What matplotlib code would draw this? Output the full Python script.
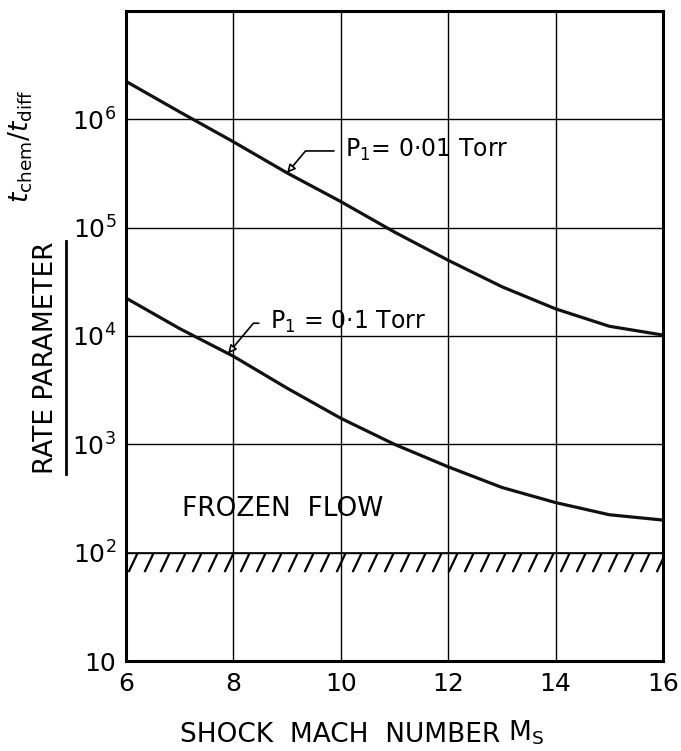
import numpy as np
import matplotlib.pyplot as plt
from matplotlib.ticker import NullLocator
from matplotlib.lines import Line2D

# data
mach = [6, 7, 8, 9, 10, 11, 12, 13, 14, 15, 16]
rate_p001 = [2.24e6, 1.17e6, 6.2e5, 3.2e5, 1.74e5, 9.1e4, 5.0e4, 2.85e4, 1.78e4, 1.23e4, 1.02e4]
rate_p01 = [2.24e4, 1.17e4, 6.5e3, 3.3e3, 1.74e3, 1.0e3, 6.2e2, 4.0e2, 2.9e2, 2.24e2, 2.0e2]
frozen_limit = 100

xticks = [6, 8, 10, 12, 14, 16]
yticks = [10, 1e2, 1e3, 1e4, 1e5, 1e6]
ytick_labels = ['10', '$10^2$', '$10^3$', '$10^4$', '$10^5$', '$10^6$']

label_p001 = 'P$_1$= 0·01 Torr'
label_p01 = 'P$_1$ = 0·1 Torr'

plt.rcParams['font.family'] = ['DejaVu Sans']
plt.rcParams['mathtext.fontset'] = 'dejavusans'

fig = plt.figure(figsize=(6.81, 7.51), dpi=100)
ax = fig.add_axes([0.185, 0.1198, 0.7886, 0.8656])

ax.set_yscale('log')
ax.set_xlim(6, 16)
ax.set_ylim(10, 1e7)
ax.set_xticks(xticks)
ax.set_xticklabels([str(v) for v in xticks])
ax.set_yticks(yticks)
ax.set_yticklabels(ytick_labels)
ax.yaxis.set_minor_locator(NullLocator())
ax.tick_params(length=0, labelsize=18)
ax.tick_params(axis='y', pad=7)
ax.tick_params(axis='x', pad=8)
ax.grid(True, color='black', lw=1.0)
for s in ax.spines.values():
    s.set_linewidth(2.2)

# curves
ax.plot(mach, rate_p001, color='#111111', lw=2.3, solid_joinstyle='round')
ax.plot(mach, rate_p01, color='#111111', lw=2.3, solid_joinstyle='round')

# frozen flow limit with hatching underneath
ax.axhline(frozen_limit, color='black', lw=1.2)
for xs in np.arange(6.2, 16.2, 0.298):
    ax.plot([xs, xs - 0.143], [frozen_limit * 10**-0.02, frozen_limit * 10**-0.17],
            color='black', lw=1.6, clip_on=True)
ax.text(8.92, frozen_limit * 10**0.40, 'FROZEN  FLOW', ha='center', va='center', fontsize=19)

# curve labels with leader arrows
def leader(text, xcurve, curve, xt, yt, ang):
    ytip = 10**np.interp(xcurve, mach, np.log10(curve))
    ax.annotate(text, xy=(xcurve, ytip), xytext=(xt, yt), ha='left', va='center',
                fontsize=17,
                arrowprops=dict(arrowstyle='-|>', fc='white', ec='black', lw=1.2,
                                mutation_scale=12, shrinkA=6, shrinkB=0,
                                relpos=(0, 0.45),
                                connectionstyle='angle,angleA=0,angleB=%d' % ang))

leader(label_p001, 9.0, rate_p001, 10.08, 10**5.72, 50)
leader(label_p01, 7.9, rate_p01, 8.68, 10**4.13, 50)

# axis titles
t_rate = fig.text(0.068, 0.524, 'RATE PARAMETER', rotation=90, ha='center', va='center', fontsize=19)
fig.text(0.030, 0.805, r'$t_{\rm chem}/t_{\rm diff}$', rotation=90, ha='center', va='center', fontsize=19)
t_x = fig.text(0.499, 0.021, 'SHOCK  MACH  NUMBER', ha='center', va='center', fontsize=19)

fig.canvas.draw()
r = fig.canvas.get_renderer()
inv = fig.transFigure.inverted()
b = t_x.get_window_extent(r).transformed(inv)
fig.text(b.x1 + 0.012, b.y0 + 0.002, 'M$_\\mathrm{S}$', ha='left', va='bottom', fontsize=19)
fig.add_artist(Line2D([b.x0, b.x1], [b.y0 - 0.006, b.y0 - 0.006], color='black', lw=2))
b2 = t_rate.get_window_extent(r).transformed(inv)
fig.add_artist(Line2D([b2.x1 + 0.01, b2.x1 + 0.01], [b2.y0, b2.y1], color='black', lw=2))

fig.savefig('out.png', dpi=100, facecolor='white')
